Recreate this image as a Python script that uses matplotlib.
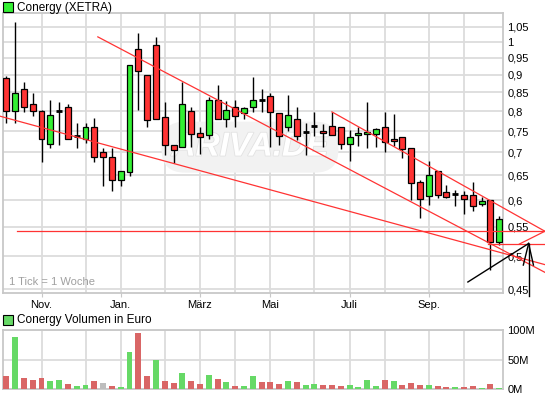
"""
Conergy (XETRA) Wochenchart mit Volumen — Nachbau im ARIVA-Stil
"""

import matplotlib
matplotlib.use('Agg')
import matplotlib.pyplot as plt
import matplotlib.patheffects as pe
from matplotlib.patches import Rectangle
from matplotlib.ticker import FixedLocator, NullLocator, FuncFormatter

plt.rcParams['font.family'] = ['Liberation Sans', 'DejaVu Sans']

# Wochenkerzen (Okt 2010 - Okt 2011), Index = Woche
opens = [0.890, 0.800, 0.859, 0.819, 0.800, 0.720, 0.800, 0.811, 0.738, 0.731,
         0.760, 0.701, 0.690, 0.640, 0.657, 0.978, 0.900, 0.991, 0.785, 0.717,
         0.713, 0.800, 0.745, 0.740, 0.829, 0.780, 0.811, 0.795, 0.811, 0.829,
         0.840, 0.795, 0.760, 0.780, 0.748, 0.762, 0.750, 0.762, 0.760, 0.720,
         0.740, 0.743, 0.743, 0.760, 0.731, 0.736, 0.710, 0.636, 0.608, 0.659,
         0.616, 0.612, 0.610, 0.610, 0.592, 0.600, 0.524]
highs = [0.895, 1.067, 0.879, 0.848, 0.803, 0.829, 0.824, 0.819, 0.770, 0.770,
         0.783, 0.710, 0.710, 0.659, 0.929, 1.030, 0.900, 1.017, 0.824, 0.717,
         0.879, 0.811, 0.760, 0.838, 0.870, 0.826, 0.829, 0.811, 0.893, 0.859,
         0.848, 0.795, 0.843, 0.811, 0.770, 0.798, 0.767, 0.798, 0.760, 0.753,
         0.760, 0.824, 0.757, 0.798, 0.793, 0.736, 0.710, 0.640, 0.681, 0.659,
         0.630, 0.620, 0.618, 0.636, 0.606, 0.600, 0.569]
lows = [0.770, 0.770, 0.798, 0.788, 0.679, 0.710, 0.717, 0.731, 0.710, 0.722,
        0.679, 0.628, 0.618, 0.628, 0.648, 0.803, 0.760, 0.780, 0.695, 0.677,
        0.713, 0.713, 0.697, 0.731, 0.780, 0.760, 0.760, 0.780, 0.798, 0.798,
        0.713, 0.717, 0.750, 0.728, 0.695, 0.738, 0.713, 0.740, 0.708, 0.681,
        0.715, 0.710, 0.713, 0.701, 0.715, 0.687, 0.600, 0.567, 0.590, 0.604,
        0.604, 0.588, 0.573, 0.580, 0.588, 0.478, 0.519]
closes = [0.800, 0.848, 0.811, 0.800, 0.731, 0.790, 0.800, 0.731, 0.738, 0.760,
          0.690, 0.690, 0.640, 0.659, 0.929, 0.911, 0.778, 0.780, 0.717, 0.706,
          0.819, 0.743, 0.736, 0.829, 0.780, 0.803, 0.788, 0.808, 0.829, 0.829,
          0.798, 0.738, 0.790, 0.738, 0.748, 0.762, 0.745, 0.740, 0.720, 0.736,
          0.745, 0.748, 0.755, 0.724, 0.726, 0.708, 0.634, 0.602, 0.650, 0.610,
          0.606, 0.612, 0.602, 0.588, 0.598, 0.524, 0.564]

# Volumen in Mio. Euro, Richtung ggü. Vorwoche (u=hoch, d=runter, n=unverändert)
volume_m = [22.5, 88, 18.6, 15.3, 18.6, 13.6, 15.3, 8.5, 5, 6.8,
            13.6, 10, 5, 3.4, 62.7, 95, 22, 49, 13.6, 10,
            27, 13.6, 8.5, 23.7, 17, 11.9, 5, 5, 22, 11.9,
            11.9, 8.5, 13.6, 11.9, 6.8, 8.5, 6.8, 6.8, 5, 6.8,
            3.4, 15.3, 5, 15.3, 13.6, 6.8, 10.2, 6.8, 6.8, 5,
            3.4, 3.4, 3.4, 5, 1.7, 8.5, 1.7]
volume_dir = list("duddduuduu"
                  "dnduuddudd"
                  "uddududuud"
                  "dduduudddu"
                  "uuududddud"
                  "duddudu")

# Monatsanfänge (Wochenindex) und beschriftete Monate
month_starts = [4, 9, 13, 18, 22, 26, 30, 35, 39, 43, 48, 52]
month_ticks = [4, 13, 22, 30, 39, 48]
month_labels = ["Nov.", "Jan.", "März", "Mai", "Juli", "Sep."]
price_ticks = [0.45, 0.5, 0.55, 0.6, 0.65, 0.7, 0.75, 0.8, 0.85, 0.9, 0.95, 1.0, 1.05]
volume_ticks = [0, 50, 100]

# Trendlinien (Wochenindex, Kurs)
red_lines = [
    [(10.4, 1.017), (61.2, 0.475)],
    [(-0.72, 0.787), (61.2, 0.487)],
    [(1.2, 0.5425), (61.2, 0.5425)],
    [(37.0, 0.798), (61.2, 0.5425)],
    [(61.2, 0.5425), (58.3, 0.5205)],
    [(54.7, 0.521), (61.2, 0.521)],
]
black_lines = [
    [(52.45, 0.4604), (59.35, 0.5214)],
    [(59.35, 0.5214), (59.35, 0.440)],
    [(59.35, 0.5214), (58.75, 0.4863)],
    [(59.35, 0.5214), (59.9, 0.4863)],
]

RED = "#FF3333"
GREEN = "#33F033"
GRID = "#DCDCDC"
FRAME = "#C8C8C8"
W, H = 545, 398


def fig_rect(x0, y0, x1, y1):
    """Pixelkoordinaten (oben links) -> Figure-Anteile"""
    return [x0 / W, 1 - y1 / H, (x1 - x0) / W, (y1 - y0) / H]


def style_axes(ax):
    for sp in ax.spines.values():
        sp.set_color(FRAME)
        sp.set_linewidth(1.3)
    ax.set_xlim(-0.375, 56.44)
    ax.xaxis.set_major_locator(FixedLocator(month_ticks))
    ax.xaxis.set_minor_locator(FixedLocator(month_starts))
    ax.grid(True, which='both', axis='x', color=GRID, linewidth=1.3, zorder=0)
    ax.grid(True, which='major', axis='y', color=GRID, linewidth=1.3, zorder=0)
    ax.yaxis.tick_right()
    ax.tick_params(axis='y', length=0, pad=3, labelsize=8)
    ax.tick_params(axis='x', which='minor', length=0)
    ax.set_axisbelow(True)


fig = plt.figure(figsize=(W / 100, H / 100), dpi=100)

# --- Kurschart ---
ax = fig.add_axes(fig_rect(3, 13, 503, 293))
ax.set_yscale('log')
ax.set_ylim(0.4443, 1.0986)
style_axes(ax)
ax.yaxis.set_major_locator(FixedLocator(price_ticks))
ax.yaxis.set_minor_locator(NullLocator())
ax.yaxis.set_major_formatter(FuncFormatter(lambda v, _: f"{v:g}".replace('.', ',')))
ax.set_xticklabels(month_labels)
ax.tick_params(axis='x', which='major', length=3, color=FRAME, pad=2, labelsize=8)

# Wasserzeichen
ax.text(0.494, 0.521, "ARIVA.DE", transform=ax.transAxes, ha='center', va='center',
        fontsize=24, fontweight='bold', style='italic', color='white', zorder=1,
        path_effects=[pe.withStroke(linewidth=1.2, foreground='#E2E2E2')],
        bbox=dict(boxstyle='round,pad=0.3,rounding_size=0.7', facecolor='#F2F2F2',
                  edgecolor='none'))

body_w = 0.68
for i, (o, h, l, c) in enumerate(zip(opens, highs, lows, closes)):
    ax.vlines(i, l, h, color='black', linewidth=1.0, zorder=3)
    if o == c:
        ax.hlines(o, i - body_w / 2, i + body_w / 2, color='black', linewidth=2, zorder=4)
    else:
        ax.bar(i, abs(c - o), bottom=min(o, c), width=body_w,
               color=GREEN if c > o else RED, edgecolor='black', linewidth=0.9, zorder=4)

for seg in red_lines:
    xs, ys = zip(*seg)
    ax.plot(xs, ys, color=RED, linewidth=0.9, clip_on=False, zorder=5)
for seg in black_lines:
    xs, ys = zip(*seg)
    ax.plot(xs, ys, color='black', linewidth=1.0, clip_on=False, zorder=6)

ax.text(0.012, 0.022, "1 Tick = 1 Woche", transform=ax.transAxes, ha='left', va='bottom',
        fontsize=8, color='#A0A0A0')

# --- Volumenchart ---
axv = fig.add_axes(fig_rect(3, 330, 503, 389))
style_axes(axv)
axv.set_ylim(0, 100)
axv.yaxis.set_major_locator(FixedLocator(volume_ticks))
axv.yaxis.set_major_formatter(FuncFormatter(lambda v, _: f"{int(v)}M"))
axv.tick_params(axis='x', which='major', length=0, labelbottom=False)
vol_colors = {'u': '#66D966', 'd': '#D96666', 'n': '#BDBDBD'}
axv.bar(range(len(volume_m)), volume_m, width=body_w,
        color=[vol_colors[d] for d in volume_dir], zorder=3)

# --- Legenden oben links ---
for (y0, col, label) in [(2, GREEN, "Conergy (XETRA)"),
                         (315, '#66D966', "Conergy Volumen in Euro")]:
    fig.patches.append(Rectangle((3 / W, 1 - (y0 + 10) / H), 10 / W, 10 / H,
                                 transform=fig.transFigure, facecolor=col,
                                 edgecolor='black', linewidth=0.8))
    fig.text(17 / W, 1 - (y0 + 5.5) / H, label, ha='left', va='center', fontsize=8.5)

fig.savefig("out.png", dpi=100)
plt.close(fig)
